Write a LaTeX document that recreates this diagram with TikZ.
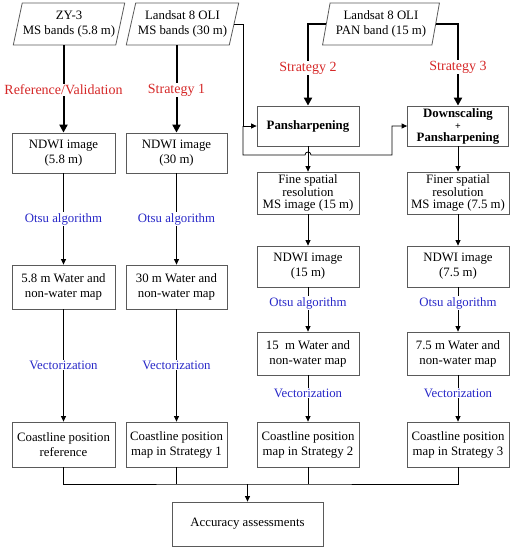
\documentclass[tikz,border=0pt]{standalone}
\usepackage{fontspec}
\setmainfont{Liberation Serif}
\usetikzlibrary{shapes.geometric,arrows.meta}
\definecolor{lred}{RGB}{214,40,40}
\definecolor{lblue}{RGB}{40,40,200}
\definecolor{bord}{RGB}{90,90,90}
\begin{document}
\begin{tikzpicture}[x=1pt,y=-1pt,
  box/.style={draw=bord,line width=0.8pt,align=center,inner sep=1pt,font=\fontsize{12.8}{15}\selectfont},
  boldbox/.style={box,font=\fontsize{12.8}{15}\selectfont\bfseries},
  para/.style={box,trapezium,trapezium left angle=74,trapezium right angle=106,trapezium stretches=true,minimum height=42,inner xsep=-4pt},
  redlab/.style={fill=white,text=lred,font=\fontsize{14}{16}\selectfont,inner sep=1pt},
  bluelab/.style={fill=white,text=lblue,font=\fontsize{12.8}{15}\selectfont,inner sep=1pt},
  thinarrow/.style={line width=0.8pt,-{Triangle[length=5.5pt,width=5pt]}},
  thickarrow/.style={line width=2pt,-{Triangle[length=8pt,width=8pt]}},
  conn/.style={line width=0.8pt}]
\useasboundingbox (0,0) rectangle (514,550);

% sources
\node[para,minimum width=112] (zy) at (69,24) {ZY-3\\MS bands (5.8 m)};
\node[para,minimum width=113] (ms) at (182.5,24) {Landsat 8 OLI\\MS bands (30 m)};
\node[para,minimum width=118,trapezium left angle=78,trapezium right angle=102] (pan) at (381,24) {Landsat 8 OLI\\PAN band (15 m)};

% column 1 and 2
\node[box,minimum width=103,minimum height=40] (nd1) at (63.5,153) {NDWI image\\(5.8 m)};
\node[box,minimum width=101,minimum height=40] (nd2) at (176.5,153) {NDWI image\\(30 m)};
\node[box,minimum width=103,minimum height=44] (wm1) at (63.5,287) {5.8 m Water and\\non-water map};
\node[box,minimum width=101,minimum height=44] (wm2) at (176.5,287) {30 m Water and\\non-water map};

% column 3 and 4
\node[boldbox,minimum width=102,minimum height=40] (psh) at (308,126) {Pansharpening};
\node[boldbox,minimum width=101,minimum height=40,inner ysep=0pt] (dsc) at (458,126) {Downscaling\\[-3pt]{\fontsize{10}{10}\selectfont +}\\[-3pt]Pansharpening};
\node[box,minimum width=102,minimum height=42] (fine) at (308,193) {Fine spatial\\[-2.5pt]resolution\\[-2.5pt]MS image (15 m)};
\node[box,minimum width=102,minimum height=42] (finer) at (458,193) {Finer spatial\\[-2.5pt]resolution\\[-2.5pt]MS image (7.5 m)};
\node[box,minimum width=102,minimum height=41] (nd3) at (308,266.5) {NDWI image\\(15 m)};
\node[box,minimum width=102,minimum height=41] (nd4) at (458,266.5) {NDWI image\\(7.5 m)};
\node[box,minimum width=102,minimum height=43] (wm3) at (308,353.5) {15\ \ m Water and\\non-water map};
\node[box,minimum width=102,minimum height=43] (wm4) at (458,353.5) {7.5 m Water and\\non-water map};

% coastline boxes
\node[box,minimum width=103,minimum height=45] (co1) at (63.5,444.5) {Coastline position\\reference};
\node[box,minimum width=101,minimum height=45] (co2) at (176.5,444.5) {Coastline position\\map in Strategy 1};
\node[box,minimum width=102,minimum height=45] (co3) at (308,444.5) {Coastline position\\map in Strategy 2};
\node[box,minimum width=102,minimum height=45] (co4) at (458,444.5) {Coastline position\\map in Strategy 3};
\node[box,minimum width=151,minimum height=44] (acc) at (247.5,524) {Accuracy assessments};

% thick source arrows
\draw[thickarrow] (zy.south -| nd1.north) -- (nd1.north);
\draw[thickarrow] (ms.south -| nd2.north) -- (nd2.north);
\draw[thickarrow] (pan.west) -| (psh.north);
\draw[thickarrow] (pan.east) -| (dsc.north);

% MS to pansharpening
\coordinate (kA) at (243,126);
\coordinate (kB) at (243,155);
\coordinate (hl) at (305,155);
\coordinate (hr) at (311,155);
\coordinate (kC) at (392,155);
\draw[thinarrow] (ms.east) -| (kA) -- (psh.west);
\draw[thinarrow] (kA) -- (kB) -- (hl) .. controls +(0,-4) and +(0,-4) .. (hr) -- (kC) |- (dsc.west);

% column flows
\draw[thinarrow] (nd1) -- (wm1);
\draw[thinarrow] (wm1) -- (co1);
\draw[thinarrow] (nd2) -- (wm2);
\draw[thinarrow] (wm2) -- (co2);
\draw[thinarrow] (psh) -- (fine);
\draw[thinarrow] (fine) -- (nd3);
\draw[thinarrow] (nd3) -- (wm3);
\draw[thinarrow] (wm3) -- (co3);
\draw[thinarrow] (dsc) -- (finer);
\draw[thinarrow] (finer) -- (nd4);
\draw[thinarrow] (nd4) -- (wm4);
\draw[thinarrow] (wm4) -- (co4);

% bottom merge
\coordinate (j) at (247.5,484);
\draw[conn] (co1.south) |- (j) -| (co4.south);
\draw[conn] (co2.south) -- (co2.south |- j);
\draw[conn] (co3.south) -- (co3.south |- j);
\draw[thinarrow] (j) -- (acc.north);

% labels
\node[redlab] (l1) at (63.5,90) {Reference/Validation};
\node[redlab] (l2) at (176.5,90) {Strategy 1};
\node[redlab] (l3) at (308,68) {Strategy 2};
\node[redlab] (l4) at (458,67) {Strategy 3};
\node[bluelab] (o1) at (63.5,219) {Otsu algorithm};
\node[bluelab] (o2) at (176.5,219) {Otsu algorithm};
\node[bluelab] (o3) at (308,303) {Otsu algorithm};
\node[bluelab] (o4) at (458,303) {Otsu algorithm};
\node[bluelab] (v1) at (63.5,365) {Vectorization};
\node[bluelab] (v2) at (176.5,365) {Vectorization};
\node[bluelab] (v3) at (308,393) {Vectorization};
\node[bluelab] (v4) at (458,393) {Vectorization};
\end{tikzpicture}
\end{document}
